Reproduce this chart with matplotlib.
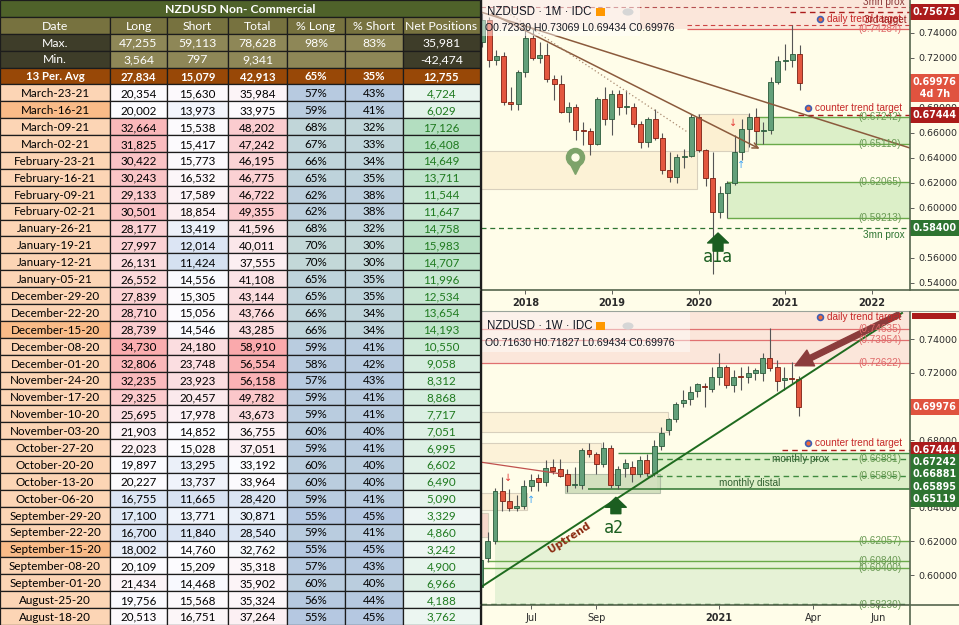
import matplotlib
matplotlib.use('Agg')
import matplotlib.pyplot as plt
from matplotlib.patches import Rectangle, Circle
from matplotlib.lines import Line2D
from matplotlib.ticker import FormatStrFormatter
import matplotlib.transforms as mtransforms
import matplotlib.dates as mdates
import numpy as np
import pandas as pd

W, H = 959, 625

# ---------------- COT table data ----------------
title_text = 'NZDUSD Non- Commercial'
headers = ['Date', 'Long', 'Short', 'Total', '% Long', '% Short', 'Net Positions']
max_row = ['Max.', '47,255', '59,113', '78,628', '98%', '83%', '35,981']
min_row = ['Min.', '3,564', '797', '9,341', '', '', '-42,474']
avg_row = ['13 Per. Avg', '27,834', '15,079', '42,913', '65%', '35%', '12,755']
dates = ['March-23-21', 'March-16-21', 'March-09-21', 'March-02-21', 'February-23-21',
         'February-16-21', 'February-09-21', 'February-02-21', 'January-26-21',
         'January-19-21', 'January-12-21', 'January-05-21', 'December-29-20',
         'December-22-20', 'December-15-20', 'December-08-20', 'December-01-20',
         'November-24-20', 'November-17-20', 'November-10-20', 'November-03-20',
         'October-27-20', 'October-20-20', 'October-13-20', 'October-06-20',
         'September-29-20', 'September-22-20', 'September-15-20', 'September-08-20',
         'September-01-20', 'August-25-20', 'August-18-20']
long_pos = [20354, 20002, 32664, 31825, 30422, 30243, 29133, 30501, 28177, 27997, 26131,
            26552, 27839, 28710, 28739, 34730, 32806, 32235, 29325, 25695, 21903, 22023,
            19897, 20227, 16755, 17100, 16700, 18002, 20109, 21434, 19756, 20513]
short_pos = [15630, 13973, 15538, 15417, 15773, 16532, 17589, 18854, 13419, 12014, 11424,
             14556, 15305, 15056, 14546, 24180, 23748, 23923, 20457, 17978, 14852, 15028,
             13295, 13737, 11665, 13771, 11840, 14760, 15209, 14468, 15568, 16751]
total_pos = [35984, 33975, 48202, 47242, 46195, 46775, 46722, 49355, 41596, 40011, 37555,
             41108, 43144, 43766, 43285, 58910, 56554, 56158, 49782, 43673, 36755, 37051,
             33192, 33964, 28420, 30871, 28540, 32762, 35318, 35902, 35324, 37264]
pct_long = [57, 59, 68, 67, 66, 65, 62, 62, 68, 70, 70, 65, 65, 66, 66, 59, 58, 57, 59, 59,
            60, 59, 60, 60, 59, 55, 59, 55, 57, 60, 56, 55]
pct_short = [43, 41, 32, 33, 34, 35, 38, 38, 32, 30, 30, 35, 35, 34, 34, 41, 42, 43, 41, 41,
             40, 41, 40, 40, 41, 45, 41, 45, 43, 40, 44, 45]
net_pos = [4724, 6029, 17126, 16408, 14649, 13711, 11544, 11647, 14758, 15983, 14707, 11996,
           12534, 13654, 14193, 10550, 9058, 8312, 8868, 7717, 7051, 6995, 6602, 6490, 5090,
           3329, 4860, 3242, 4900, 6966, 4188, 3762]
highlight_dates = ['March-16-21', 'December-15-20', 'September-15-20']

# ---------------- monthly candles (1M) ----------------
m_start = '2017-07'
m_open = [.7325, .7505, .7185, .7215, .6848, .6830, .7085, .7360, .7200, .7225, .7030, .6990,
          .6765, .6805, .6620, .6618, .6515, .6875, .6715, .6910, .6805, .6808, .6670, .6528,
          .6710, .6560, .6300, .6250, .6408, .6412, .6730, .6460, .6240, .5970, .6120, .6200,
          .6450, .6630, .6730, .6615, .6620, .7010, .7175, .7180, .7233]
m_high = [.7558, .7525, .7260, .7245, .6965, .7100, .7435, .7440, .7330, .7320, .7060, .7060,
          .6850, .6830, .6690, .6640, .6890, .6970, .6940, .6940, .6940, .6840, .6695, .6725,
          .6790, .6600, .6450, .6430, .6470, .6755, .6755, .6475, .6445, .6175, .6215, .6585,
          .6715, .6760, .6800, .6690, .7045, .7215, .7315, .7465, .7307]
m_low = [.7290, .7130, .7140, .6820, .6780, .6780, .7050, .7180, .7160, .7010, .6860, .6760,
         .6690, .6545, .6500, .6425, .6500, .6660, .6580, .6745, .6750, .6650, .6480, .6490,
         .6540, .6270, .6205, .6200, .6320, .6410, .6450, .6175, .5470, .5920, .5920, .6185,
         .6380, .6490, .6510, .6510, .6590, .6990, .7100, .7130, .6943]
m_close = [.7505, .7185, .7215, .6848, .6830, .7085, .7360, .7200, .7225, .7030, .6990, .6765,
           .6805, .6620, .6618, .6515, .6875, .6715, .6910, .6805, .6808, .6670, .6528, .6710,
           .6560, .6300, .6250, .6408, .6412, .6730, .6460, .6240, .5970, .6120, .6200, .6450,
           .6630, .6730, .6615, .6620, .7010, .7175, .7180, .7233, .6998]

# ---------------- weekly candles (1W) ----------------
w_start = '2020-05-18'
w_open = [0.5930, 0.6100, 0.6200, 0.6497, 0.6442, 0.6398, 0.6413, 0.6529, 0.6579, 0.6551,
          0.6640, 0.6628, 0.6601, 0.6535, 0.6535, 0.6743, 0.6717, 0.6658, 0.6753, 0.6535,
          0.6634, 0.6640, 0.6601, 0.6684, 0.6608, 0.6769, 0.6862, 0.6925, 0.7020, 0.7044,
          0.7095, 0.7120, 0.7103, 0.7174, 0.7234, 0.7129, 0.7178, 0.7178, 0.7202, 0.7202,
          0.7291, 0.7238, 0.7158, 0.7172, 0.7163]
w_high = [0.6135, 0.6258, 0.6515, 0.6585, 0.6512, 0.6475, 0.6565, 0.6600, 0.6600, 0.6684,
          0.6690, 0.6690, 0.6630, 0.6645, 0.6755, 0.6786, 0.6730, 0.6792, 0.6770, 0.6650,
          0.6690, 0.6680, 0.6705, 0.6720, 0.6800, 0.6880, 0.6930, 0.7025, 0.7099, 0.7120,
          0.7140, 0.7140, 0.7238, 0.7317, 0.7250, 0.7220, 0.7238, 0.7240, 0.7230, 0.7317,
          0.7465, 0.7275, 0.7235, 0.7267, 0.7183]
w_low = [0.5920, 0.6080, 0.6185, 0.6380, 0.6380, 0.6380, 0.6390, 0.6500, 0.6500, 0.6530,
         0.6600, 0.6580, 0.6496, 0.6515, 0.6512, 0.6700, 0.6600, 0.6640, 0.6516, 0.6510,
         0.6580, 0.6555, 0.6580, 0.6590, 0.6590, 0.6740, 0.6830, 0.6910, 0.7000, 0.7010,
         0.7056, 0.6998, 0.7090, 0.7129, 0.7110, 0.7090, 0.7100, 0.7140, 0.7160, 0.7150,
         0.7210, 0.7095, 0.7100, 0.7140, 0.6943]
w_close = [0.6090, 0.6200, 0.6497, 0.6442, 0.6398, 0.6413, 0.6529, 0.6565, 0.6551, 0.6634,
           0.6620, 0.6589, 0.6535, 0.6537, 0.6743, 0.6717, 0.6658, 0.6753, 0.6535, 0.6628,
           0.6664, 0.6601, 0.6684, 0.6608, 0.6769, 0.6842, 0.6925, 0.7014, 0.7040, 0.7089,
           0.7133, 0.7117, 0.7174, 0.7234, 0.7129, 0.7174, 0.7176, 0.7198, 0.7218, 0.7291,
           0.7228, 0.7155, 0.7172, 0.7163, 0.6998]

# price levels
last_price = 0.69976
counter_target = 0.67444
prox_3mn = 0.58400
top_levels_red = [0.74284]
top_zone_hi = [0.67242, 0.62065]
top_zone_lo = [0.65119, 0.59213]
wk_red_levels = [0.74635, 0.73954, 0.72622]
wk_green_labels = [0.66881, 0.65895, 0.62057, 0.60840, 0.60400, 0.58230]
wk_box_levels = [0.67444, 0.67242, 0.66881, 0.65895, 0.65119]

# ---------------- styling ----------------
CREAM = '#fffde9'
UP, UP_E = '#63a07a', '#2a5a3a'
DN, DN_E = '#e3573f', '#7c1f12'
WICK = '#555555'
DKRED = '#ab1b1b'
BOXGREEN = '#2e7431'
AXC = '#55654d'
TXT = '#2b2b2b'
LBL_RED = '#df6a6a'
LBL_GRN = '#6a9a55'
CHART_FONT = 'Liberation Sans'

fig = plt.figure(figsize=(W / 100, H / 100), dpi=100)


def rect(l, t, r, b):
    return [l / W, 1 - b / H, (r - l) / W, (b - t) / H]


def fig_line(x0, y0, x1, y1, color=AXC, lw=1.2):
    fig.add_artist(Line2D([x0 / W, x1 / W], [1 - y0 / H, 1 - y1 / H], color=color, lw=lw,
                          transform=fig.transFigure, zorder=20))


def fig_rect(x0, y0, x1, y1, color, zorder=21):
    fig.add_artist(Rectangle((x0 / W, 1 - y1 / H), (x1 - x0) / W, (y1 - y0) / H,
                             facecolor=color, edgecolor='none', transform=fig.transFigure,
                             zorder=zorder))


bg = fig.add_axes(rect(481, 0, 959, 625))
bg.set_facecolor(CREAM)
bg.set_xticks([]); bg.set_yticks([])
for s in bg.spines.values():
    s.set_visible(False)

# ================= TABLE =================
ax_t = fig.add_axes(rect(0, 0, 481, 625))
n_rows = 5 + len(dates)
ax_t.set_xlim(0, 481)
ax_t.set_ylim(n_rows, 0)
ax_t.axis('off')
col_edges = [0, 110, 167, 228, 287, 345, 403, 480]
TFONT = 'Lato'


def mix(c1, c2, t):
    a = np.array(matplotlib.colors.to_rgb(c1)); b = np.array(matplotlib.colors.to_rgb(c2))
    return tuple(a + (b - a) * max(0.0, min(1.0, t)))


def diverge(v, lo, mid, hi, c_lo='#5a8ac6', c_mid='#fcfcff', c_hi='#f8696b'):
    if v >= mid:
        return mix(c_mid, c_hi, (v - mid) / (hi - mid))
    return mix(c_mid, c_lo, (mid - v) / (mid - lo))


def num(s):
    return float(s.replace(',', '').replace('%', ''))


def cell(r, c0, c1, fc, text, color='black', weight='normal', size=8.4):
    x0, x1 = col_edges[c0], col_edges[c1]
    ax_t.add_patch(Rectangle((x0, r), x1 - x0, 1, facecolor=fc, edgecolor='#1c1c1c', lw=0.9))
    ax_t.text((x0 + x1) / 2, r + 0.55, text, ha='center', va='center', color=color,
              fontsize=size, fontweight=weight, family=TFONT)


cell(0, 0, 7, '#4f622a', title_text, 'white', 'bold', 8.8)
for j, hd in enumerate(headers):
    cell(1, j, j + 1, '#77723f', hd, 'white', 'normal', 8.8)
for r, row in ((2, max_row), (3, min_row)):
    for j, v in enumerate(row):
        fc = '#3e3d29' if j in (0, 6) else '#8e8757'
        cell(r, j, j + 1, fc, v, 'white', 'normal', 8.8)
for j, v in enumerate(avg_row):
    cell(4, j, j + 1, '#984807', v, 'white', 'bold', 8.2)

long_lo, long_hi = num(min_row[1]), num(max_row[1])
short_lo, short_hi = num(min_row[2]), num(max_row[2])
tot_lo, tot_hi = num(min_row[3]), num(max_row[3])
net_hi = num(max_row[6])

for i, d in enumerate(dates):
    r = 5 + i
    cell(r, 0, 1, '#f9bb88' if d in highlight_dates else '#fcd5b5', d)
    cell(r, 1, 2, diverge(long_pos[i], long_lo, 20000, long_hi), f'{long_pos[i]:,}')
    cell(r, 2, 3, diverge(short_pos[i], short_lo, 14800, short_hi), f'{short_pos[i]:,}')
    cell(r, 3, 4, diverge(total_pos[i], tot_lo, 33500, tot_hi), f'{total_pos[i]:,}')
    pc = mix('#b5c8e1', '#c3d8d8', (pct_long[i] - 55) / 15)
    cell(r, 4, 5, pc, f'{pct_long[i]}%')
    cell(r, 5, 6, pc, f'{pct_short[i]}%')
    cell(r, 6, 7, mix('#fcfcff', '#63be7b', net_pos[i] / net_hi), f'{net_pos[i]:,}', '#1f7a1f')


# ================= CANDLES helper =================
def candles(ax, x, o, h, l, c, width, min_h):
    o, h, l, c = map(np.asarray, (o, h, l, c))
    up = c >= o
    ax.vlines(x, l, h, color=WICK, lw=0.8, zorder=3)
    ax.bar(x, np.maximum(np.abs(c - o), min_h), bottom=np.minimum(o, c), width=width,
           color=[UP if u else DN for u in up], edgecolor=[UP_E if u else DN_E for u in up],
           linewidth=0.6, zorder=4)


def style_axes(ax):
    ax.set_facecolor(CREAM)
    for s in ax.spines.values():
        s.set_visible(False)
    ax.yaxis.tick_right()
    ax.yaxis.set_major_formatter(FormatStrFormatter('%.5f'))
    ax.tick_params(axis='y', labelsize=6.8, colors='#444444', labelcolor=TXT, length=3,
                   width=0.6, pad=3, direction='out')
    ax.tick_params(axis='x', labelsize=7, colors='#444444', labelcolor=TXT, length=3,
                   width=0.6, pad=3)


def box_label(ax, y, text, fc, va='center', size=6.9):
    tr = mtransforms.blended_transform_factory(ax.transAxes, ax.transData)
    ax.text(1.006, y, text, transform=tr, ha='left', va=va, fontsize=size, color='white',
            fontweight='bold', family='DejaVu Sans', zorder=30, clip_on=False,
            bbox=dict(boxstyle='square,pad=0.3', fc=fc, ec='none'))


def line_label(ax, y, text, color, xf=0.930, size=7.2, ha='center'):
    tr = mtransforms.blended_transform_factory(ax.transAxes, ax.transData)
    ax.text(xf, y, text, transform=tr, ha=ha, va='center', fontsize=size, color=color,
            family=CHART_FONT, zorder=12)


def icon(ax, xf, y):
    tr = mtransforms.blended_transform_factory(ax.transAxes, ax.transData)
    ax.plot([xf], [y], 'o', ms=4.2, mfc='#f06a3a', mec='#3f5fb5', mew=1.2, transform=tr,
            zorder=12)


BLOCK_ARROW = dict(arrowstyle='simple,head_length=0.55,head_width=1.15,tail_width=0.55',
                   color='#1b5e20', mutation_scale=13, shrinkA=0, shrinkB=0)

# ================= TOP CHART (1M) =================
ax1 = fig.add_axes(rect(481, 0, 910, 290))
style_axes(ax1)
months = pd.period_range(m_start, periods=len(m_open), freq='M')
mx = np.arange(len(months))


def mi(s):
    return (pd.Period(s, 'M') - pd.Period(m_start, 'M')).n


X1L, X1R = -0.14, 59.3
ax1.set_xlim(X1L, X1R)
ax1.set_ylim(0.5344, 0.7664)

# zones
ax1.add_patch(Rectangle((X1L, top_levels_red[0]), X1R - X1L, 0.03, fc='#fbe6da', ec='none', zorder=1))
ax1.add_patch(Rectangle((X1L, 0.6152), mi('2020-01') - 0.2 - X1L, 0.6456 - 0.6152, fc='#fcf2d6',
                        ec='#d8d0bd', lw=0.8, zorder=1))
ax1.add_patch(Rectangle((mi('2020-01') - 0.1, 0.6456), mi('2020-08') - 0.1 - mi('2020-01'),
                        0.675 - 0.6456, fc='#fcf0d2', ec='#d8d0bd', lw=0.8, zorder=1))
z_starts = [mi('2020-08') + 0.8, mi('2020-04') + 0.9]
for xs, hi, lo in zip(z_starts, top_zone_hi, top_zone_lo):
    ax1.add_patch(Rectangle((xs, lo), X1R - xs, hi - lo, fc='#dcefc8', ec='none', zorder=1))
    ax1.hlines([hi, lo], xs, X1R, color='#6aaa4a', lw=1.0, zorder=2)
    line_label(ax1, hi, f'({hi:.5f})', LBL_GRN)
    line_label(ax1, lo, f'({lo:.5f})', LBL_GRN)

ax1.hlines(0.7610, X1L, X1R, color='#b55050', lw=0.8, linestyles=(0, (4, 3)), zorder=2)
ax1.hlines(0.75673, mi('2021-01') + 0.7, X1R, color=DKRED, lw=1.0, linestyles=(0, (4, 3)), zorder=2)
ax1.hlines(0.7462, mi('2019-11') + 0.4, X1R, color='#cc4444', lw=0.8, linestyles=(0, (4, 3)), zorder=2)
ax1.hlines(top_levels_red[0], mi('2019-11') + 0.4, X1R, color='#e06060', lw=0.9, zorder=2)
ax1.hlines(counter_target, mi('2021-02') + 0.8, X1R, color=DKRED, lw=1.0, linestyles=(0, (4, 3)), zorder=2)
ax1.hlines(prox_3mn, X1L, X1R, color=BOXGREEN, lw=0.9, linestyles=(0, (4, 3)), zorder=2)

# trend lines
ax1.plot([0, X1R], [0.7565, 0.6480], color='#8b5a3c', lw=1.1, zorder=5)
ax1.annotate('', xy=(38.8, 0.6464), xytext=(1.0, 0.7565),
             arrowprops=dict(arrowstyle='->', color='#8b5a3c', lw=1.1), zorder=5)
ax1.plot([3.5, 28.4], [0.7565, 0.6610], color='#a98a70', lw=0.9, ls=(0, (1, 2)), zorder=5)

candles(ax1, mx, m_open, m_high, m_low, m_close, 0.7, 0.0007)

line_label(ax1, top_levels_red[0], f'({top_levels_red[0]:.5f})', LBL_RED)
line_label(ax1, 0.7650, '3mn prox', '#8b3a3a', xf=0.988, ha='right')
icon(ax1, 0.791, 0.7512)
line_label(ax1, 0.7512, 'daily trend target', '#c62828', xf=0.806, ha='left')
line_label(ax1, 0.7505, '3rd target', '#9b1c1c', xf=0.893, ha='left')
icon(ax1, 0.762, 0.6800)
line_label(ax1, 0.6800, 'counter trend target', '#c62828', xf=0.778, ha='left')
line_label(ax1, 0.5784, '3mn prox', BOXGREEN, xf=0.988, ha='right')

# pin marker
ax1.plot([12.9], [0.6330], 'v', ms=10, color='#7da36a', zorder=6)
ax1.plot([12.9], [0.6408], 'o', ms=13, color='#7da36a', zorder=6)
ax1.plot([12.9], [0.6408], 'o', ms=5, color=CREAM, zorder=7)

# arrows & labels
ax1.text(mi('2020-06') - 0.2, 0.6680, '↓', color='#e53935', fontsize=7, ha='center', va='center', zorder=8)
ax1.text(mi('2020-06') + 0.9, 0.6340, '↑', color='#42a5f5', fontsize=7, ha='center', va='center', zorder=8)
ax1.annotate('', xy=(mi('2020-04') - 0.3, 0.5800), xytext=(mi('2020-04') - 0.3, 0.5655),
             arrowprops=BLOCK_ARROW, zorder=8)
ax1.text(mi('2020-04') - 0.3, 0.5605, 'a1a', color='#1b5e20', fontsize=12, ha='center',
         va='center', family='DejaVu Sans Mono', zorder=8)

top_ticks = [0.54, 0.56, 0.60, 0.62, 0.64, 0.66, 0.68, 0.72, 0.74]
ax1.set_yticks(top_ticks)
years = [2018, 2019, 2020, 2021, 2022]
ax1.set_xticks([mi(f'{y}-01') for y in years])
ax1.set_xticklabels([str(y) for y in years], fontweight='bold')

box_label(ax1, 0.75673, f'{0.75673:.5f}', DKRED)
box_label(ax1, last_price + 0.0048, f'{last_price:.5f}\n  4d 7h', '#e0533f', va='top')
box_label(ax1, counter_target, f'{counter_target:.5f}', DKRED)
box_label(ax1, prox_3mn, f'{prox_3mn:.5f}', BOXGREEN)

ax1.add_patch(Rectangle((0, 1 - 36 / 290), (640 - 481) / 429, 36 / 290, transform=ax1.transAxes,
                        fc='white', alpha=0.45, ec='none', zorder=9))
ax1.text(0.014, 1 - 12 / 290, 'NZDUSD · 1M · IDC', transform=ax1.transAxes, fontsize=8.3,
         color='#131722', va='center', family=CHART_FONT, zorder=10)
ax1.text(0.010, 1 - 28 / 290, 'O0.72330 H0.73069 L0.69434 C0.69976', transform=ax1.transAxes,
         fontsize=7.6, color='#131722', va='center', family=CHART_FONT, zorder=10)

# ================= BOTTOM CHART (1W) =================
ax2 = fig.add_axes(rect(481, 312, 910, 605))
style_axes(ax2)
weeks = pd.date_range(w_start, periods=len(w_open), freq='7D')
wx = mdates.date2num(weeks)


def dn(s):
    return mdates.date2num(pd.Timestamp(s))


X2L, X2R = dn('2020-06-01') - 13.55, dn('2020-06-01') + 401.7
ax2.set_xlim(X2L, X2R)
ax2.set_ylim(0.5823, 0.7562)

ax2.add_patch(Rectangle((X2L, wk_red_levels[2]), X2R - X2L, 0.04, fc='#fbe6da', ec='none', zorder=1))
ax2.hlines(wk_red_levels, X2L, X2R, color='#e07070', lw=0.9, zorder=2)
for v in wk_red_levels:
    line_label(ax2, v, f'({v:.5f})', LBL_RED)

# beige zones left
for (x1s, lo, hi, fc) in [('2020-11-15', 0.6850, 0.6969, '#fcf2d8'), ('2020-09-12', 0.6672, 0.6784, '#fcf2d8'),
                          ('2020-07-02', 0.6387, 0.6488, '#fcf0d6'), ('2020-05-25', 0.6227, 0.6369, '#f8d9cc')]:
    ax2.add_patch(Rectangle((X2L, lo), dn(x1s) - X2L, hi - lo, fc=fc, ec='#d8d0bd', lw=0.8, zorder=1))

# lower green zone
ax2.add_patch(Rectangle((dn('2020-06-01'), 0.5823), X2R - dn('2020-06-01'), 0.62057 - 0.5823,
                        fc='#e6f2d6', ec='none', zorder=1))
ax2.hlines(0.62057, dn('2020-06-01'), X2R, color='#6aaa4a', lw=1.0, zorder=2)
ax2.hlines(0.60840, dn('2020-05-24'), X2R, color='#6aaa4a', lw=1.0, zorder=2)
ax2.hlines(0.60400, X2L, X2R, color='#6aaa4a', lw=1.0, zorder=2)
ax2.hlines(0.58300, X2L, X2R, color=BOXGREEN, lw=1.0, linestyles=(0, (4, 3)), zorder=2)

# monthly zone
ax2.add_patch(Rectangle((dn('2020-11-05'), 0.65119), X2R - dn('2020-11-05'), 0.67242 - 0.65119,
                        fc='#dcefc8', ec='none', zorder=1))
ax2.add_patch(Rectangle((dn('2020-08-08'), 0.6488), dn('2020-11-08') - dn('2020-08-08'), 0.6601 - 0.6488,
                        fc='#c9d9b4', ec='#a9b5a0', lw=0.8, alpha=0.8, zorder=1))
ax2.hlines(0.67242, dn('2020-09-28'), X2R, color='#3f8a3f', lw=1.0, zorder=2)
ax2.hlines(0.66881, dn('2020-11-05'), X2R, color='#3f8a3f', lw=1.0, linestyles=(0, (4, 3)), zorder=2)
ax2.hlines(0.65895, dn('2020-10-26'), X2R, color='#3f8a3f', lw=1.0, linestyles=(0, (4, 3)), zorder=2)
ax2.hlines(0.65119, dn('2020-08-30'), X2R, color='#2e7431', lw=1.1, zorder=2)
ax2.hlines(counter_target, dn('2021-03-06'), X2R, color=DKRED, lw=1.0, linestyles=(0, (4, 3)), zorder=2)
for v in wk_green_labels:
    line_label(ax2, v, f'({v:.5f})', LBL_GRN)
line_label(ax2, 0.66881, 'monthly prox', '#2e5e2e', xf=0.746)
line_label(ax2, 0.6547, 'monthly distal', '#2e5e2e', xf=0.627)
icon(ax2, 0.791, 0.7532)
line_label(ax2, 0.7532, 'daily trend target', '#c62828', xf=0.806, ha='left')
icon(ax2, 0.762, 0.6785)
line_label(ax2, 0.6785, 'counter trend target', '#c62828', xf=0.779, ha='left')

# trend lines
ax2.plot([dn('2020-05-17'), dn('2020-08-04')], [0.6672, 0.6601], color='#c0504d', lw=0.9, zorder=5)
ax2.plot([dn('2020-05-17'), dn('2021-06-30')], [0.5924, 0.7556], color='#1f6b1f', lw=1.4, zorder=5)

candles(ax2, wx, w_open, w_high, w_low, w_close, 4.8, 0.0004)

ax2.annotate('', xy=(dn('2021-03-16'), 0.7236), xytext=(dn('2021-06-30'), 0.7556),
             arrowprops=dict(arrowstyle='simple,head_length=0.9,head_width=0.9,tail_width=0.28',
                             color='#8b3c3c', mutation_scale=14), zorder=9)
ax2.text(dn('2020-08-12'), 0.6221, 'Uptrend', rotation=33, color='#8b2a10', fontsize=7.5,
         fontweight='bold', ha='center', va='center', family='DejaVu Sans', zorder=8)
ax2.annotate('', xy=(dn('2020-09-26'), 0.6462), xytext=(dn('2020-09-26'), 0.6365),
             arrowprops=BLOCK_ARROW, zorder=8)
ax2.text(dn('2020-09-24'), 0.6282, 'a2', color='#1b5e20', fontsize=12, ha='center', va='center',
         family='DejaVu Sans Mono', zorder=8)
ax2.text(dn('2020-06-14'), 0.6577, '↓', color='#e53935', fontsize=7, ha='center', va='center', zorder=8)
ax2.text(dn('2020-07-06'), 0.6447, '↑', color='#42a5f5', fontsize=7, ha='center', va='center', zorder=8)

ax2.set_yticks([0.60, 0.62, 0.64, 0.68, 0.72, 0.74])


def first_monday(y, m):
    t = pd.Timestamp(y, m, 1)
    return t + pd.Timedelta(days=(7 - t.weekday()) % 7)


wt = [(2020, 7, 'Jul'), (2020, 9, 'Sep'), (2021, 1, '2021'), (2021, 4, 'Apr'), (2021, 6, 'Jun')]
ax2.set_xticks([mdates.date2num(first_monday(y, m)) for y, m, _ in wt])
ax2.set_xticklabels([s for _, _, s in wt])
for lab in ax2.get_xticklabels():
    if lab.get_text() == '2021':
        lab.set_fontweight('bold')

box_label(ax2, last_price, f'{last_price:.5f}', '#e0533f')
stack = []
step = 12.3 * (0.7562 - 0.5823) / 293
for v in wk_box_levels:
    y = v if not stack else min(v, stack[-1] - step)
    stack.append(y)
for v, y in zip(wk_box_levels, stack):
    box_label(ax2, y, f'{v:.5f}', DKRED if v == counter_target else BOXGREEN)

ax2.add_patch(Rectangle((0, 1 - 40 / 293), (690 - 481) / 429, 40 / 293, transform=ax2.transAxes,
                        fc='white', alpha=0.45, ec='none', zorder=9))
ax2.text(0.014, 1 - 14 / 293, 'NZDUSD · 1W · IDC', transform=ax2.transAxes, fontsize=8.3,
         color='#131722', va='center', family=CHART_FONT, zorder=10)
ax2.text(0.010, 1 - 31 / 293, 'O0.71630 H0.71827 L0.69434 C0.69976', transform=ax2.transAxes,
         fontsize=7.6, color='#131722', va='center', family=CHART_FONT, zorder=10)

# ---------------- frame lines & icons ----------------
fig_line(481, 290, 959, 290)
fig_line(910, 0, 910, 290)
fig_line(481, 311, 959, 311, color='#9aa39a', lw=0.8)
fig_line(481, 605, 959, 605)
fig_line(910, 312, 910, 625)
fig_line(481, 0, 481, 625, color='#1c1c1c', lw=1.0)
fig_rect(912, 313, 956, 319, DKRED)
for yy in (12, 326):
    fig_rect(596, yy - 4, 605, yy + 4, '#ff9800')
    fig.add_artist(Circle((628 / W, 1 - yy / H), 5.5 / W, transform=fig.transFigure,
                          fc='#d6d6d6', ec='none', zorder=21))
    fig_line(625, yy, 631, yy, color='#777777', lw=1.2)

fig.savefig('out.png', dpi=100, facecolor='white')
